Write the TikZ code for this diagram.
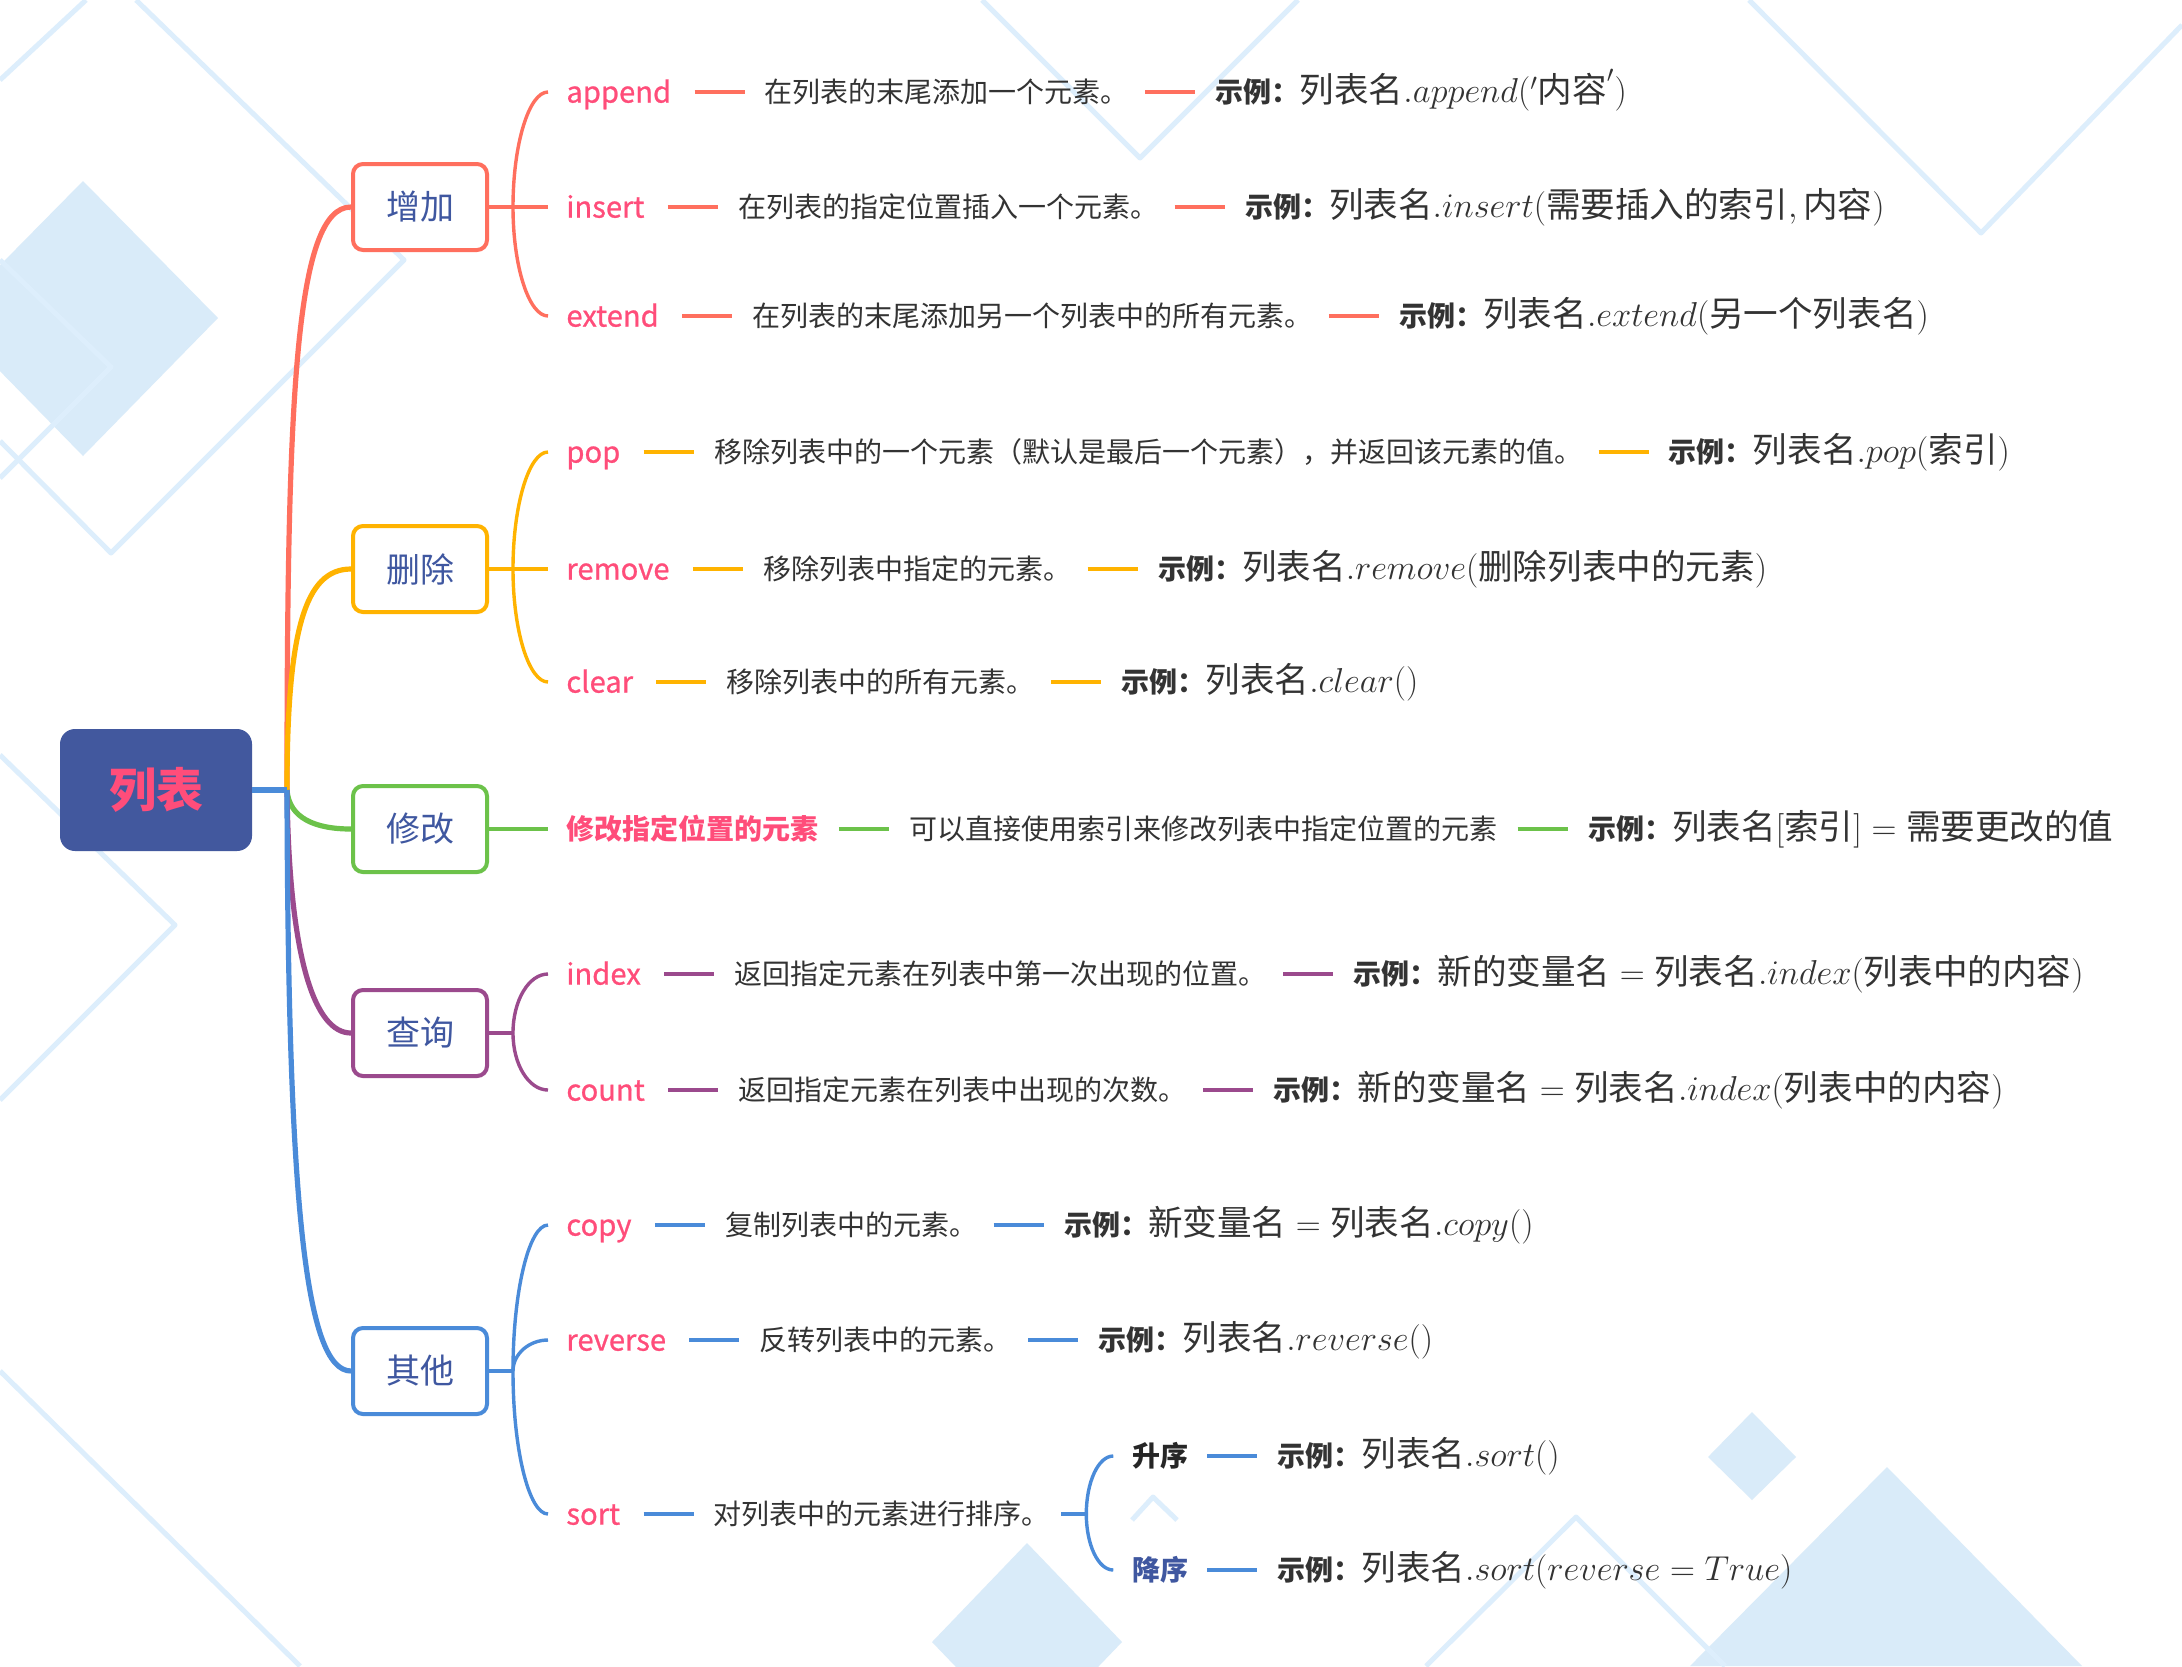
\documentclass[tikz,border=0pt]{standalone}
\usepackage[no-math]{fontspec}
\setmainfont{Noto Sans CJK SC}
\newfontfamily\labfont{Noto Sans CJK SC}[FakeBold=0.8]
\usetikzlibrary{positioning,calc}
\definecolor{cred}{HTML}{FF6F5E}
\definecolor{cyel}{HTML}{FFB300}
\definecolor{cgrn}{HTML}{6CC24A}
\definecolor{cpur}{HTML}{9B4A8D}
\definecolor{cblu}{HTML}{4A8BD9}
\definecolor{croot}{HTML}{42589E}
\definecolor{cpink}{HTML}{FF4D7A}
\definecolor{cnavy}{HTML}{3F57A0}
\definecolor{ctext}{HTML}{333333}
\definecolor{bgfill}{HTML}{D9EBF9}
\definecolor{bgline}{HTML}{DDEEFC}
\newcommand\exmp[1]{{\bfseries 示例：}{\fontsize{17.28}{20}\selectfont$#1$}}
\begin{document}
\begin{tikzpicture}[x=0.5pt,y=-0.5pt,
  root/.style={fill=croot, rounded corners=7.5pt, minimum width=96pt, minimum height=61pt, inner sep=0, text=cpink, font=\bfseries\fontsize{23.5}{28}\selectfont},
  lvl/.style={draw, line width=2pt, rounded corners=5pt, fill=white, minimum width=67pt, minimum height=43pt, inner sep=0, text=cnavy, font=\fontsize{17}{20}\selectfont},
  txt/.style={anchor=west, inner sep=0, text height=12.3pt, text depth=1.7pt, text=ctext, font=\fontsize{14}{17}\selectfont},
  lab/.style={txt, text=cpink, font=\labfont\fontsize{14.6}{18}\selectfont},
  labcn/.style={txt, text=cpink, font=\bfseries\fontsize{14}{17}\selectfont},
  branch/.style={line width=2.6pt},
  br/.style={line width=1.7pt},
  dA/.style={line width=2.3pt, shorten <=11.5pt, shorten >=10pt},
  dB/.style={line width=2.3pt, shorten <=8pt, shorten >=10pt}]
\useasboundingbox (0,0) rectangle (2182,1666);
% background
\fill[white] (0,0) rectangle (2182,1666);
\begin{scope}
\clip (0,0) rectangle (2182,1666);
\fill[bgfill] (83,181) -- (218,318) -- (83,456) -- (-52,318) -- cycle;
\fill[bgfill] (1752,1412) -- (1796,1457) -- (1752,1500) -- (1708,1457) -- cycle;
\fill[bgfill] (1887,1467) -- (2082,1666) -- (1690,1666) -- cycle;
\fill[bgfill] (1027,1543) -- (1122,1642) -- (1027,1741) -- (932,1642) -- cycle;
\begin{scope}[bgline, line width=2.5pt, line join=round]
\draw (0,80) -- (86,0);
\draw (136,0) -- (404,260) -- (111,553) -- (0,441);
\draw (0,260) -- (111,367) -- (0,478);
\draw (0,755) -- (175,925) -- (0,1100);
\draw (0,1371) -- (300,1666);
\draw (982,0) -- (1140,158) -- (1298,0);
\draw (1749,0) -- (1981,233) -- (2182,25);
\draw (1426,1666) -- (1576,1517) -- (1725,1666);
\draw (1132,1520) -- (1153,1497) -- (1177,1520);
\end{scope}
\end{scope}
% root and level 1
\node[root] (root) at (156,790) {列表};
\node[lvl, draw=cred] (add) at (420,207) {增加};
\node[lvl, draw=cyel] (del) at (420,569) {删除};
\node[lvl, draw=cgrn] (mod) at (420,829) {修改};
\node[lvl, draw=cpur] (qry) at (420,1033) {查询};
\node[lvl, draw=cblu] (oth) at (420,1371) {其他};
\coordinate (T) at (287,790);
\draw[branch, cred] (T) .. controls (287,400) and (295,207) .. (add.west);
\draw[branch, cyel] (T) .. controls (287,630) and (305,569) .. (del.west);
\draw[branch, cgrn] (T) .. controls (289,818) and (315,829) .. (mod.west);
\draw[branch, cpur] (T) .. controls (289,960) and (315,1033) .. (qry.west);
\draw[branch, cblu] (T) .. controls (288,1200) and (305,1371) .. (oth.west);
\draw[branch, cblu] (root.east) -- (T);
% ---------- add group
\node[lab] (append) at (566,92) {append};
\node[txt, right=46.5pt of append] (appendD) {在列表的末尾添加一个元素。};
\node[txt, right=43pt of appendD] (appendE) {\exmp{\mbox{列表名}.append('\mbox{内容}')}};
\node[lab] (insert) at (566,207) {insert};
\node[txt, right=46.5pt of insert] (insertD) {在列表的指定位置插入一个元素。};
\node[txt, right=43pt of insertD] (insertE) {\exmp{\mbox{列表名}.insert(\mbox{需要插入的索引},\mbox{内容})}};
\node[lab] (extend) at (566,316) {extend};
\node[txt, right=46.5pt of extend] (extendD) {在列表的末尾添加另一个列表中的所有元素。};
\node[txt, right=43pt of extendD] (extendE) {\exmp{\mbox{列表名}.extend(\mbox{另一个列表名})}};
\begin{scope}[cred]
\coordinate (addJ) at (513,207);
\draw[br] (add) -- (addJ);
\draw[br] (addJ) .. controls +(0,-63) and +(-19,0) .. ([xshift=-9pt]append.west);
\draw[br] (addJ) -- ([xshift=-9pt]insert.west);
\draw[br] (addJ) .. controls +(0,60) and +(-19,0) .. ([xshift=-9pt]extend.west);
\draw[dA] (append) -- (appendD); \draw[dB] (appendD) -- (appendE);
\draw[dA] (insert) -- (insertD); \draw[dB] (insertD) -- (insertE);
\draw[dA] (extend) -- (extendD); \draw[dB] (extendD) -- (extendE);
\end{scope}
% ---------- del group
\node[lab] (pop) at (566,452) {pop};
\node[txt, right=46.5pt of pop] (popD) {移除列表中的一个元素（默认是最后一个元素），并返回该元素的值。};
\node[txt, right=43pt of popD] (popE) {\exmp{\mbox{列表名}.pop(\mbox{索引})}};
\node[lab] (remove) at (566,569) {remove};
\node[txt, right=46.5pt of remove] (removeD) {移除列表中指定的元素。};
\node[txt, right=43pt of removeD] (removeE) {\exmp{\mbox{列表名}.remove(\mbox{删除列表中的元素})}};
\node[lab] (clear) at (566,682) {clear};
\node[txt, right=46.5pt of clear] (clearD) {移除列表中的所有元素。};
\node[txt, right=43pt of clearD] (clearE) {\exmp{\mbox{列表名}.clear()}};
\begin{scope}[cyel]
\coordinate (delJ) at (513,569);
\draw[br] (del) -- (delJ);
\draw[br] (delJ) .. controls +(0,-64) and +(-19,0) .. ([xshift=-9pt]pop.west);
\draw[br] (delJ) -- ([xshift=-9pt]remove.west);
\draw[br] (delJ) .. controls +(0,62) and +(-19,0) .. ([xshift=-9pt]clear.west);
\draw[dA] (pop) -- (popD); \draw[dB] (popD) -- (popE);
\draw[dA] (remove) -- (removeD); \draw[dB] (removeD) -- (removeE);
\draw[dA] (clear) -- (clearD); \draw[dB] (clearD) -- (clearE);
\end{scope}
% ---------- mod group
\node[labcn] (modl) at (566,829) {修改指定位置的元素};
\node[txt, right=45pt of modl] (modD) {可以直接使用索引来修改列表中指定位置的元素};
\node[txt, right=45pt of modD] (modE) {\exmp{\mbox{列表名}[\mbox{索引}]=\mbox{需要更改的值}}};
\begin{scope}[cgrn]
\draw[br] (mod) -- ([xshift=-9pt]modl.west);
\draw[dA, shorten <=10pt] (modl) -- (modD); \draw[dB, shorten <=10pt] (modD) -- (modE);
\end{scope}
% ---------- query group
\node[lab] (index) at (566,974) {index};
\node[txt, right=46.5pt of index] (indexD) {返回指定元素在列表中第一次出现的位置。};
\node[txt, right=43pt of indexD] (indexE) {\exmp{\mbox{新的变量名}=\mbox{列表名}.index(\mbox{列表中的内容})}};
\node[lab] (count) at (566,1090) {count};
\node[txt, right=46.5pt of count] (countD) {返回指定元素在列表中出现的次数。};
\node[txt, right=43pt of countD] (countE) {\exmp{\mbox{新的变量名}=\mbox{列表名}.index(\mbox{列表中的内容})}};
\begin{scope}[cpur]
\coordinate (qryJ) at (513,1033);
\draw[br] (qry) -- (qryJ);
\draw[br] (qryJ) .. controls +(0,-33) and +(-19,0) .. ([xshift=-9pt]index.west);
\draw[br] (qryJ) .. controls +(0,32) and +(-19,0) .. ([xshift=-9pt]count.west);
\draw[dA] (index) -- (indexD); \draw[dB] (indexD) -- (indexE);
\draw[dA] (count) -- (countD); \draw[dB] (countD) -- (countE);
\end{scope}
% ---------- other group
\node[lab] (copy) at (566,1225) {copy};
\node[txt, right=46.5pt of copy] (copyD) {复制列表中的元素。};
\node[txt, right=43pt of copyD] (copyE) {\exmp{\mbox{新变量名}=\mbox{列表名}.copy()}};
\node[lab] (reverse) at (566,1340) {reverse};
\node[txt, right=46.5pt of reverse] (reverseD) {反转列表中的元素。};
\node[txt, right=43pt of reverseD] (reverseE) {\exmp{\mbox{列表名}.reverse()}};
\node[lab] (sort) at (566,1514) {sort};
\node[txt, right=46.5pt of sort] (sortD) {对列表中的元素进行排序。};
\coordinate (sortJ) at ([xshift=18pt]sortD.east);
\node[txt, font=\bfseries\fontsize{14}{17}\selectfont, text=black!85] (asc) at ($(sortJ)+(46,-58)$) {升序};
\node[txt, right=44pt of asc] (ascE) {\exmp{\mbox{列表名}.sort()}};
\node[txt, font=\bfseries\fontsize{14}{17}\selectfont, text=cnavy] (dsc) at ($(sortJ)+(46,56)$) {降序};
\node[txt, right=44pt of dsc] (dscE) {\exmp{\mbox{列表名}.sort(reverse=True)}};
\begin{scope}[cblu]
\coordinate (othJ) at (513,1371);
\draw[br] (oth) -- (othJ);
\draw[br] (othJ) .. controls +(0,-80) and +(-19,0) .. ([xshift=-9pt]copy.west);
\draw[br] (othJ) .. controls +(0,-17) and +(-19,0) .. ([xshift=-9pt]reverse.west);
\draw[br] (othJ) .. controls +(0,79) and +(-19,0) .. ([xshift=-9pt]sort.west);
\draw[dA] (copy) -- (copyD); \draw[dB] (copyD) -- (copyE);
\draw[dA] (reverse) -- (reverseD); \draw[dB] (reverseD) -- (reverseE);
\draw[dA] (sort) -- (sortD);
\draw[br, shorten <=5.5pt] (sortD) -- (sortJ);
\draw[br] (sortJ) .. controls +(0,-32) and +(-15,0) .. ([xshift=-9.5pt]asc.west);
\draw[br] (sortJ) .. controls +(0,31) and +(-15,0) .. ([xshift=-9.5pt]dsc.west);
\draw[dA, shorten <=9pt] (asc) -- (ascE);
\draw[dA, shorten <=9pt] (dsc) -- (dscE);
\end{scope}
\end{tikzpicture}
\end{document}
